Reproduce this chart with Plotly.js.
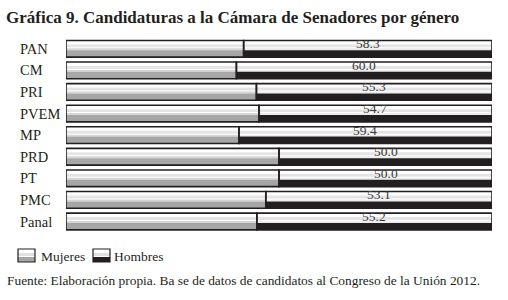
<!DOCTYPE html>
<html>
<head>
<meta charset="utf-8">
<script src="https://cdn.plot.ly/plotly-3.0.1.min.js"></script>
<style>html,body{margin:0;padding:0;background:#fff;}#chart{width:508px;height:300px;}</style>
</head>
<body>
<div id="chart"></div>
<script>
// ---- data ----
var partidos = ["PAN", "CM", "PRI", "PVEM", "MP", "PRD", "PT", "PMC", "Panal"];
var hombres  = [58.3, 60.0, 55.3, 54.7, 59.4, 50.0, 50.0, 53.1, 55.2];
var mujeres  = hombres.map(function (h) { return +(100 - h).toFixed(1); });
var etiquetas = hombres.map(function (h) { return h.toFixed(1); });
var serieNombres = ["Mujeres", "Hombres"];
var titulo = "Gráfica 9. Candidaturas a la Cámara de Senadores por género";
var fuente = "Fuente: Elaboración propia. Ba se de datos de candidatos al Congreso de la Unión 2012.";

// ---- geometry / styling ----
var PX = 1 / 22;            // one pixel in category units
var BAR_H = 17;             // bar height in px
var TOP = -BAR_H / 2 * PX;  // offset of bar top
var FONT = "Liberation Serif, Times New Roman, serif";
var INK = "#231f20";

// stripes: [fromPx, toPx, colourMujeres, colourHombres]
var stripes = [
  [4, 7, "#e4e4e4", "#e4e4e4"],
  [8, 10, "#d6d6d6", "#ededed"],
  [10, 17, "#a6a6a6", INK]
];

var traces = [];
function barTrace(x, base, width, offset, fill, line, name) {
  return {
    type: "bar", orientation: "h", y: partidos, x: x, base: base,
    width: partidos.map(function () { return width; }),
    offset: partidos.map(function () { return offset; }),
    marker: { color: fill, line: { color: INK, width: line } },
    name: name, showlegend: false, hoverinfo: "skip", textposition: "none"
  };
}
var zeros = partidos.map(function () { return 0; });
// white backgrounds
traces.push(barTrace(mujeres, zeros, BAR_H * PX, TOP, "#ffffff", 0, serieNombres[0]));
traces.push(barTrace(hombres, mujeres, BAR_H * PX, TOP, "#ffffff", 0, serieNombres[1]));
// stripes
stripes.forEach(function (s) {
  traces.push(barTrace(mujeres, zeros, (s[1] - s[0]) * PX, TOP + s[0] * PX, s[2], 0, serieNombres[0]));
  traces.push(barTrace(hombres, mujeres, (s[1] - s[0]) * PX, TOP + s[0] * PX, s[3], 0, serieNombres[1]));
});
// outlines
traces.push(barTrace(mujeres, zeros, BAR_H * PX, TOP, "rgba(0,0,0,0)", 1.6, serieNombres[0]));
traces.push(barTrace(hombres, mujeres, BAR_H * PX, TOP, "rgba(0,0,0,0)", 1.6, serieNombres[1]));

// plot area in px
var L = 66, R = 492, T = 38, B = 236;
function px2x(px) { return (px - L) / (R - L); }
function py2y(py) { return (B - py) / (B - T); }

var annotations = [];
partidos.forEach(function (p, i) {
  annotations.push({
    xref: "paper", yref: "y", x: px2x(18), y: p, xanchor: "left", yanchor: "middle",
    text: p, showarrow: false, font: { family: FONT, size: 14.5, color: INK }
  });
  annotations.push({
    xref: "x", yref: "y", x: mujeres[i] + hombres[i] / 2, y: p, yshift: 5,
    xanchor: "center", yanchor: "middle",
    text: etiquetas[i], showarrow: false, font: { family: FONT, size: 13.5, color: "#3a3a3a" }
  });
});
// legend texts
annotations.push({ xref: "paper", yref: "paper", x: px2x(39), y: py2y(256), xanchor: "left", yanchor: "middle",
  text: serieNombres[0], showarrow: false, font: { family: FONT, size: 13.5, color: INK } });
annotations.push({ xref: "paper", yref: "paper", x: px2x(112), y: py2y(256), xanchor: "left", yanchor: "middle",
  text: serieNombres[1], showarrow: false, font: { family: FONT, size: 13.5, color: INK } });
// footer
annotations.push({ xref: "paper", yref: "paper", x: px2x(5), y: py2y(280), xanchor: "left", yanchor: "middle",
  text: fuente, showarrow: false, font: { family: FONT, size: 13.4, color: INK } });

// legend swatches as shapes
var shapes = [];
function swatch(x0, dark) {
  var y0 = 249, y1 = 262;
  shapes.push({ type: "rect", xref: "paper", yref: "paper", x0: px2x(x0), x1: px2x(x0 + 17),
    y0: py2y(y0 + 7), y1: py2y(y0 + 4), fillcolor: "#e0e0e0", line: { width: 0 } });
  shapes.push({ type: "rect", xref: "paper", yref: "paper", x0: px2x(x0), x1: px2x(x0 + 17),
    y0: py2y(y1), y1: py2y(y0 + 8), fillcolor: dark, line: { width: 0 } });
  shapes.push({ type: "rect", xref: "paper", yref: "paper", x0: px2x(x0), x1: px2x(x0 + 17),
    y0: py2y(y1), y1: py2y(y0), fillcolor: "rgba(0,0,0,0)", line: { color: INK, width: 1.2 } });
}
swatch(18, "#a6a6a6");
swatch(93, INK);

var layout = {
  width: 508, height: 300,
  margin: { l: L, r: 508 - R, t: T, b: 300 - B, pad: 0 },
  paper_bgcolor: "#ffffff", plot_bgcolor: "#ffffff",
  barmode: "overlay", showlegend: false,
  title: { text: "<b>" + titulo + "</b>", x: 6 / 508, xref: "container", xanchor: "left",
    y: 1 - 17 / 300, yref: "container", yanchor: "middle",
    font: { family: FONT, size: 17, color: INK } },
  xaxis: { range: [0, 100], showgrid: false, zeroline: false, showticklabels: false, showline: false, fixedrange: true },
  yaxis: { type: "category", categoryarray: partidos, autorange: "reversed",
    showgrid: false, zeroline: false, showticklabels: false, showline: false, ticks: "" },
  annotations: annotations, shapes: shapes
};

Plotly.newPlot("chart", traces, layout, { displayModeBar: false, staticPlot: true });
</script>
</body>
</html>
